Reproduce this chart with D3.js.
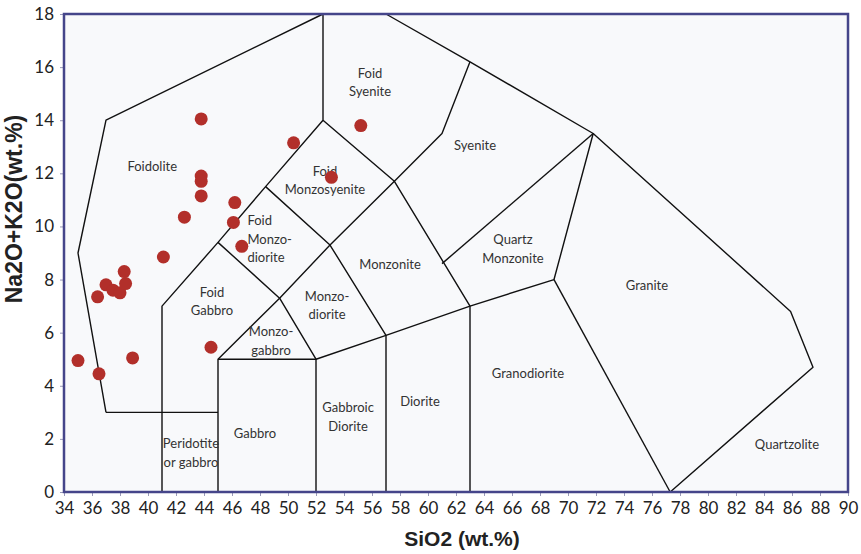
<!DOCTYPE html>
<html>
<head>
<meta charset="utf-8">
<script src="https://cdn.jsdelivr.net/npm/d3@7"></script>
<style>
  body { margin: 0; background: #fff; }
  svg text { font-family: Lato, "Open Sans", sans-serif; }
</style>
</head>
<body>
<div id="tas_container"></div>
<script>
// sample points, SiO2 vs Na2O+K2O (wt.%)
const sio2 = [35.0, 36.5, 36.4, 37.0, 37.5, 38.0, 38.4, 38.3, 38.9, 41.1, 44.5,
    42.6, 43.8, 43.8, 43.8, 43.8, 46.2, 46.1, 46.7, 50.4, 55.2, 53.1];
const alkali = [4.95, 4.45, 7.35, 7.8, 7.6, 7.5, 7.85, 8.3, 5.05, 8.85, 5.45,
    10.35, 14.05, 11.9, 11.7, 11.15, 10.9, 10.15, 9.25, 13.15, 13.8, 11.85];

// field boundaries (Middlemost 1994), as [SiO2, Na2O+K2O] polylines
const boundaries = [
    [[37, 3], [35, 9], [37, 14], [52.5, 18], [57, 18], [63, 16.2], [71.8, 13.5],
     [85.9, 6.8], [87.5, 4.7], [77.3, 0]],
    [[37, 3], [45, 3]],
    [[41, 0], [41, 7], [45, 9.4], [48.4, 11.5], [52.5, 14], [52.5, 18]],
    [[45, 0], [45, 5], [49.4, 7.3], [53, 9.3], [57.6, 11.7], [61, 13.5], [63, 16.2]],
    [[45, 5], [52, 5], [57, 5.9], [63, 7], [69, 8], [71.8, 13.5]],
    [[52, 0], [52, 5], [49.4, 7.3], [45, 9.4]],
    [[57, 0], [57, 5.9], [53, 9.3], [48.4, 11.5]],
    [[63, 0], [63, 7], [57.6, 11.7], [52.5, 14]],
    [[61, 8.6], [71.8, 13.5]],
    [[69, 8], [77.3, 0]]
];

// field names and where they sit
const fieldNames = [
    ["Foidolite"], ["Foid", "Syenite"], ["Syenite"], ["Foid", "Monzosyenite"],
    ["Foid", "Monzo-", "diorite"], ["Foid", "Gabbro"], ["Monzo-", "gabbro"],
    ["Monzo-", "diorite"], ["Monzonite"], ["Quartz", "Monzonite"], ["Granite"],
    ["Granodiorite"], ["Diorite"], ["Gabbroic", "Diorite"], ["Gabbro"],
    ["Peridotite", "or gabbro"], ["Quartzolite"]
];
const fieldAt = [
    [40.3, 12.24], [55.86, 15.42], [63.36, 13.03], [52.64, 11.73],
    [47.1, 9.51], [44.57, 7.17], [48.79, 5.69],
    [52.79, 7.02], [57.29, 8.55], [66.07, 9.15], [75.64, 7.76],
    [67.14, 4.48], [59.43, 3.39], [54.29, 2.82], [47.64, 2.22],
    [43.07, 1.47], [85.64, 1.77]
];
const fieldAnchor = ["middle", "middle", "middle", "middle", "start", "middle",
    "middle", "middle", "middle", "middle", "middle", "middle", "middle",
    "middle", "middle", "middle", "middle"];

const xTicks = d3.range(34, 91, 2);
const yTicks = d3.range(0, 19, 2);

const margin = { top: 14, right: 13, bottom: 62, left: 64 },
    width = 861 - margin.left - margin.right,
    height = 554 - margin.top - margin.bottom;

const svg = d3.select("#tas_container")
    .append("svg")
    .attr("width", 861)
    .attr("height", 554)
    .append("g")
    .attr("transform", `translate(${margin.left}, ${margin.top})`);

const x = d3.scaleLinear().domain([34, 90]).range([0, width]);
const y = d3.scaleLinear().domain([0, 18]).range([height, 0]);

svg.append("rect")
    .attr("width", width)
    .attr("height", height)
    .attr("fill", "#f8f9fb");

// axes
const xAxis = svg.append("g")
    .attr("transform", `translate(0, ${height})`)
    .call(d3.axisBottom(x).tickValues(xTicks).tickSize(4).tickPadding(6));
const yAxis = svg.append("g")
    .call(d3.axisLeft(y).tickValues(yTicks).tickSize(4).tickPadding(6));

[xAxis, yAxis].forEach(function (a) {
    a.select(".domain").remove();
    a.selectAll("line").attr("stroke", "#9a9ab8");
    a.selectAll("text")
        .attr("fill", "#222")
        .style("font-size", "17px");
});

// field boundaries
const line = d3.line().x(d => x(d[0])).y(d => y(d[1]));
svg.selectAll(".field")
    .data(boundaries)
    .enter()
    .append("path")
    .classed("field", true)
    .attr("d", line)
    .attr("fill", "none")
    .attr("stroke", "#111")
    .attr("stroke-width", 1.4)
    .attr("stroke-linejoin", "round");

// field labels
const labels = svg.selectAll(".label")
    .data(fieldNames)
    .enter()
    .append("text")
    .classed("label", true)
    .attr("text-anchor", (d, i) => fieldAnchor[i])
    .style("font-size", "13px")
    .attr("fill", "#333");

labels.each(function (d, i) {
    const lineH = 18.5;
    const t = d3.select(this);
    d.forEach(function (s, j) {
        t.append("tspan")
            .attr("x", x(fieldAt[i][0]))
            .attr("y", y(fieldAt[i][1]) + (j - (d.length - 1) / 2) * lineH + 4.5)
            .text(s);
    });
});

// samples
svg.selectAll(".sample")
    .data(sio2)
    .enter()
    .append("circle")
    .classed("sample", true)
    .attr("cx", d => x(d))
    .attr("cy", (d, i) => y(alkali[i]))
    .attr("r", 6.5)
    .attr("fill", "#b22f2a");

// frame
svg.append("rect")
    .attr("width", width)
    .attr("height", height)
    .attr("fill", "none")
    .attr("stroke", "#45458a")
    .attr("stroke-width", 2.5);

// axis titles
svg.append("text")
    .attr("x", width / 2 + 6)
    .attr("y", height + 54)
    .attr("text-anchor", "middle")
    .style("font-family", "'Liberation Sans', Arial, sans-serif")
    .style("font-size", "21px")
    .style("font-weight", "700")
    .attr("fill", "#222")
    .text("SiO2 (wt.%)");

svg.append("text")
    .attr("transform", `translate(${-42}, ${195}) rotate(-90)`)
    .attr("text-anchor", "middle")
    .style("font-family", "'Liberation Sans', Arial, sans-serif")
    .style("font-size", "23px")
    .style("font-weight", "700")
    .attr("fill", "#222")
    .text("Na2O+K2O(wt.%)");
</script>
</body>
</html>
